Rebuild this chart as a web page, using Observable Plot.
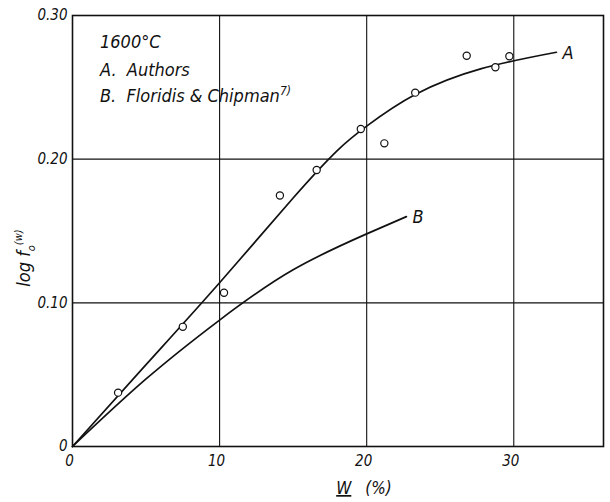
<!DOCTYPE html>
<html>
<head>
<meta charset="utf-8">
<script src="https://cdn.jsdelivr.net/npm/d3@7"></script>
<script src="https://cdn.jsdelivr.net/npm/@observablehq/plot@0.6"></script>
<style>
  html, body { margin: 0; padding: 0; background: #fff; }
  #chart svg { display: block; }
</style>
</head>
<body>
<div id="chart"></div>
<script>
// Measured points, series A (Authors)
const pointsW = [3.1, 7.5, 10.3, 14.1, 16.6, 19.6, 21.2, 23.3, 26.8, 28.75, 29.7];
const pointsLogF = [0.0375, 0.0833, 0.107, 0.1747, 0.1925, 0.221, 0.211, 0.2463, 0.272, 0.264, 0.2716];

// Curve A (Authors)
const curveAW = [0, 5, 10, 15, 18, 20, 23.3, 27.8, 32.9];
const curveALogF = [0, 0.057, 0.114, 0.173, 0.206, 0.223, 0.245, 0.263, 0.2744];

// Curve B (Floridis & Chipman)
const curveBW = [0, 5, 10, 15, 20, 22.7];
const curveBLogF = [0, 0.047, 0.088, 0.123, 0.148, 0.160];

const xTicks = [0, 10, 20, 30];
const yTicks = [0, 0.10, 0.20, 0.30];
const curveLabels = ["A", "B"];
const legendLines = ["1600°C", "A.  Authors", "B.  Floridis & Chipman"];

const points = pointsW.map((w, i) => ({w, f: pointsLogF[i]}));
const lineA = curveAW.map((w, i) => ({w, f: curveALogF[i]}));
const lineB = curveBW.map((w, i) => ({w, f: curveBLogF[i]}));
const ends = [
  {label: curveLabels[0], ...lineA[lineA.length - 1]},
  {label: curveLabels[1], ...lineB[lineB.length - 1]}
];

const font = "'Liberation Sans Narrow', 'DejaVu Sans Condensed', sans-serif";

const plot = Plot.plot({
  width: 610,
  height: 502,
  marginLeft: 72,
  marginRight: 7,
  marginTop: 15,
  marginBottom: 56,
  style: {fontFamily: font, fontStyle: "italic", fontSize: "15px", color: "#111", background: "#fff"},
  x: {domain: [0, 36.1]},
  y: {domain: [0, 0.30]},
  marks: [
    Plot.gridX(xTicks.filter(d => d > 0), {stroke: "#111", strokeOpacity: 1, strokeWidth: 1.1}),
    Plot.gridY(yTicks.filter(d => d > 0), {stroke: "#111", strokeOpacity: 1, strokeWidth: 1.1}),
    Plot.frame({stroke: "#111", strokeWidth: 1.6}),
    Plot.axisX({ticks: xTicks, tickSize: 0, tickPadding: 9, dx: -3, label: null, fontSize: 15}),
    Plot.axisY({ticks: yTicks, tickSize: 0, tickPadding: 5, label: null, fontSize: 15,
      tickFormat: d => d === 0 ? "0" : d.toFixed(2)}),
    Plot.line(lineA, {x: "w", y: "f", curve: "natural", stroke: "#111", strokeWidth: 1.7}),
    Plot.line(lineB, {x: "w", y: "f", curve: "natural", stroke: "#111", strokeWidth: 1.7}),
    Plot.dot(points, {x: "w", y: "f", r: 3.6, stroke: "#111", strokeWidth: 1.2, fill: "#fff"}),
    Plot.text(ends, {x: "w", y: "f", text: "label", textAnchor: "start", dx: 6, dy: 1, fontSize: 18, fill: "#111"})
  ]
});

const svg = d3.select(plot);
// legend block inside the plot
const legendY = [48, 76, 102];
legendLines.forEach((t, i) => {
  const txt = svg.append("text")
    .attr("x", 100).attr("y", legendY[i]).attr("text-anchor", "start")
    .attr("font-size", 18).attr("font-style", "italic").attr("font-family", font)
    .attr("fill", "#111").text(t);
  if (i === 2) txt.append("tspan").attr("dy", -7).attr("font-size", 12).text("7)");
});
// y-axis label: log f_o^(w)
const yl = svg.append("text")
  .attr("transform", "translate(30,258) rotate(-90)")
  .attr("text-anchor", "middle")
  .attr("font-size", 18).attr("font-style", "italic").attr("font-family", font).attr("fill", "#111");
yl.append("tspan").text("log f");
yl.append("tspan").attr("dy", 5).attr("font-size", 11).text("o");
yl.append("tspan").attr("dy", -13).attr("font-size", 11).text("(w)");
// x-axis label: W (%)
const xl = svg.append("text")
  .attr("x", 364).attr("y", 494).attr("text-anchor", "middle")
  .attr("font-size", 17).attr("font-style", "italic").attr("font-family", font).attr("fill", "#111");
xl.append("tspan").attr("text-decoration", "underline").text("W");
xl.append("tspan").attr("dx", 14).text("(%)");

document.getElementById("chart").appendChild(plot);
</script>
</body>
</html>
